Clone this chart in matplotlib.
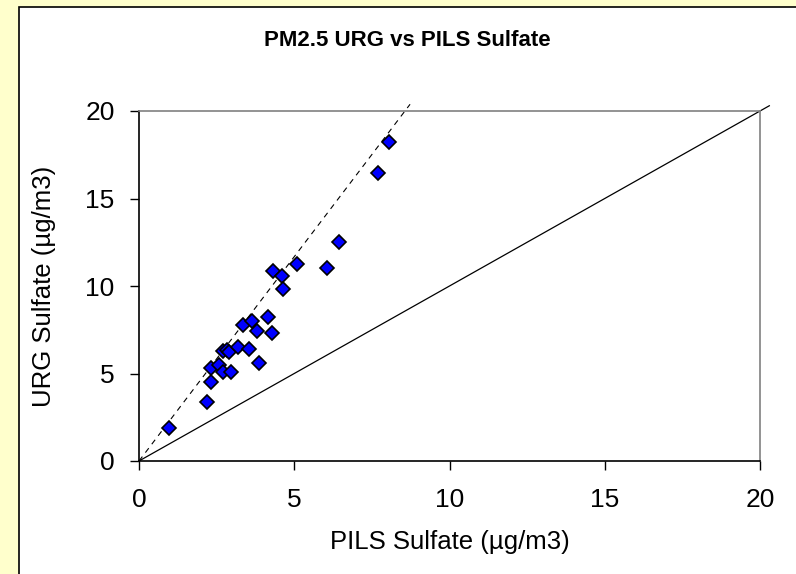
import numpy as np
import matplotlib.pyplot as plt
from matplotlib.patches import Rectangle

plt.rcParams['font.family'] = ['Liberation Sans', 'DejaVu Sans']

# PILS vs URG sulfate (ug/m3)
pils = [0.98, 2.20, 2.32, 2.31, 2.58, 2.72, 2.95, 2.72, 2.82, 2.91, 3.20, 3.55, 3.87,
        3.36, 3.65, 3.79, 4.16, 4.27, 4.30, 4.62, 4.65, 5.10, 6.04, 6.43, 7.71, 8.05]
urg = [1.87, 3.35, 4.53, 5.30, 5.49, 5.10, 5.10, 6.30, 6.35, 6.25, 6.50, 6.38, 5.62,
       7.77, 8.00, 7.43, 8.21, 7.30, 10.86, 10.57, 9.83, 11.24, 11.01, 12.50, 16.44, 18.23]

fit_slope = 2.335   # dashed regression line through origin
fit_xmax = 8.73
one_to_one_max = 20.3

ticks = [0, 5, 10, 15, 20]

fig = plt.figure(figsize=(7.96, 5.74), dpi=100, facecolor='#FFFFCC')
# white chart area with black border (cut off at right / bottom)
fig.patches.append(Rectangle((19/796, -0.1), 1.0, 1 - 7/574 + 0.1, transform=fig.transFigure,
                             facecolor='white', edgecolor='black', lw=1.2, zorder=-10))

ax = fig.add_axes([139/796, 1 - 461/574, 621/796, 350/574])
ax.set_zorder(5)
ax.set_facecolor('white')

x1 = np.array([0, one_to_one_max])
ax.plot(x1, x1, color='black', lw=0.9, clip_on=False, zorder=2)
x2 = np.array([0, fit_xmax])
ax.plot(x2, fit_slope*x2, color='black', lw=0.8, dashes=(5, 4.5), clip_on=False, zorder=2)

ax.plot(pils, urg, ls='none', marker='D', ms=7.2, mfc='#0000FF', mec='black', mew=1.2, zorder=3)

ax.set_xlim(0, 20)
ax.set_ylim(0, 20)
ax.set_xticks(ticks)
ax.set_yticks(ticks)
ax.tick_params(axis='x', direction='out', length=6.5, width=1, pad=13, labelsize=19)
ax.tick_params(axis='y', direction='out', length=6.5, width=1, pad=11, labelsize=19)

for s in ['top', 'right']:
    ax.spines[s].set_color('#808080')
    ax.spines[s].set_linewidth(1.2)
for s in ['left', 'bottom']:
    ax.spines[s].set_color('black')
    ax.spines[s].set_linewidth(1.2)

ax.set_xlabel('PILS Sulfate (µg/m3)', fontsize=18.5, labelpad=13)
ax.set_ylabel('URG Sulfate (µg/m3)', fontsize=18.5, labelpad=21)

fig.text(0.512, 1 - 46/574, 'PM2.5 URG vs PILS Sulfate', ha='center', va='baseline',
         fontsize=16, fontweight='bold')

fig.savefig('out.png', dpi=100, facecolor=fig.get_facecolor())
